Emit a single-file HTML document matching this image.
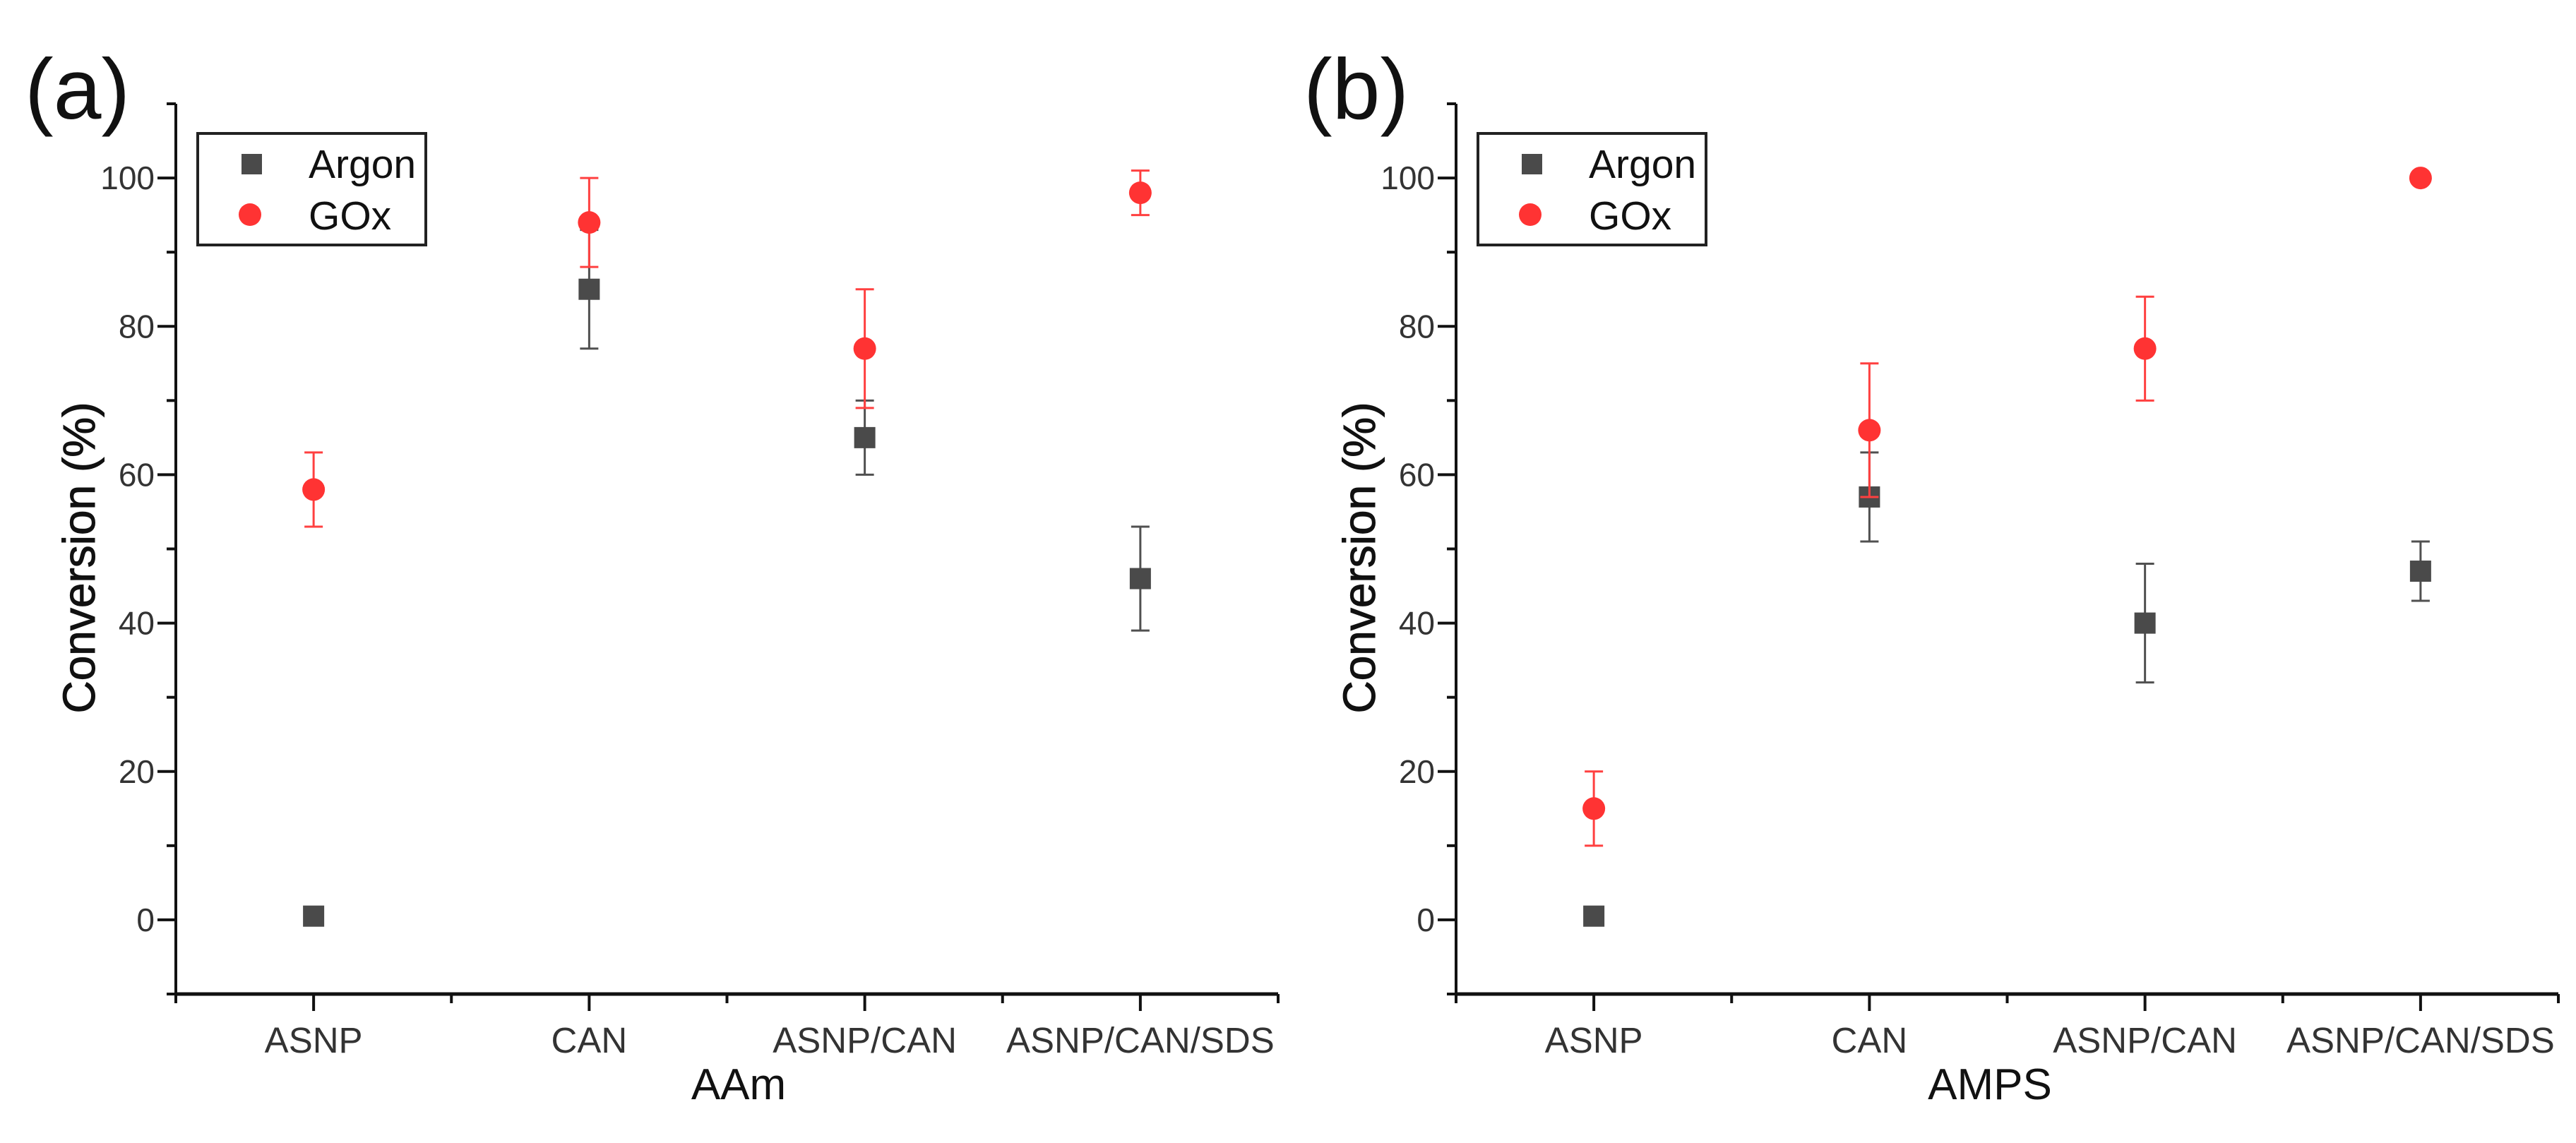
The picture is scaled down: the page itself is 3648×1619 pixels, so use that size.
<!DOCTYPE html>
<html><head><meta charset="utf-8"><style>
html,body{margin:0;padding:0;background:#fff;}
svg{display:block;font-family:"Liberation Sans",Arial,sans-serif;}
</style></head><body>
<svg id="fig" width="3648" height="1619" viewBox="0 0 3648 1619" xmlns="http://www.w3.org/2000/svg"></svg>
<script>
const categories = ["ASNP","CAN","ASNP/CAN","ASNP/CAN/SDS"];
const argonA = [0.5, 85, 65, 46];
const argonErrA = [0, 8, 5, 7];
const goxA = [58, 94, 77, 98];
const goxErrA = [5, 6, 8, 3];
const argonB = [0.5, 57, 40, 47];
const argonErrB = [0, 6, 8, 4];
const goxB = [15, 66, 77, 100];
const goxErrB = [5, 9, 7, 0];
const yTicks = [0, 20, 40, 60, 80, 100];
const yMinor = [-10, 10, 30, 50, 70, 90, 110];

const NS = "http://www.w3.org/2000/svg";
const svg = document.getElementById("fig");
function mk(tag, attrs, parent, text){
  const e = document.createElementNS(NS, tag);
  for (const k in attrs) e.setAttribute(k, attrs[k]);
  if (text !== undefined) e.textContent = text;
  (parent||svg).appendChild(e);
  return e;
}

function panel(cfg){
  const g = mk("g", {});
  
  
  const x0 = cfg.x0, x1 = x0 + 1561, yTop = 147, yBot = 1408;
  const ymin = -10, ymax = 110;
  const ys = v => yBot - (v - ymin) / (ymax - ymin) * (yBot - yTop);
  const xs = i => x0 + (i + 0.5) / 4 * (x1 - x0);
  const ax = "#111";
  // axes
  const yAxis = mk("line", {x1:x0, y1:yTop, x2:x0, y2:yBot, stroke:ax, "stroke-width":4}, g);
  
  
  const xAxis = mk("line", {x1:x0-2, y1:yBot, x2:x1, y2:yBot, stroke:ax, "stroke-width":5}, g);
  
  
  yTicks.forEach(v => {
    mk("line", {x1:x0-26, y1:ys(v), x2:x0, y2:ys(v), stroke:ax, "stroke-width":4}, g);
    const t = mk("text", {x:x0-16-(x0===249?0:0)-14, y:ys(v)+16, "text-anchor":"end", "font-size":46, fill:"#333"}, g, String(v));
    
    
  });
  yMinor.forEach(v => {
    mk("line", {x1:x0-13, y1:ys(v), x2:x0, y2:ys(v), stroke:ax, "stroke-width":4}, g);
  });
  // x ticks
  for (let i = 0; i <= 4; i++) {
    const xm = x0 + i / 4 * (x1 - x0);
    mk("line", {x1:xm, y1:yBot, x2:xm, y2:yBot+13, stroke:ax, "stroke-width":4}, g);
  }
  categories.forEach((c, i) => {
    mk("line", {x1:xs(i), y1:yBot, x2:xs(i), y2:yBot+24, stroke:ax, "stroke-width":4}, g);
    const t = mk("text", {x:xs(i), y:1491, "text-anchor":"middle", "font-size":51, fill:"#333"}, g, c);
    
    
  });
  // titles
  const yt = mk("text", {x:0, y:0, transform:`translate(${x0-115},790) rotate(-90)`, "text-anchor":"middle", "font-size":64, fill:"#111", stroke:"#111", "stroke-width":1}, g, "Conversion (%)");
  
  
  const xt = mk("text", {x:cfg.xTitleX, y:1557, "text-anchor":"middle", "font-size":62, fill:"#111"}, g, cfg.xTitle);
  
  
  const pl = mk("text", {x:cfg.labelX, y:168, "font-size":122, fill:"#111"}, g, cfg.label);
  
  
  // series
  function errbar(i, v, e, col){
    if (!e) return;
    const x = xs(i);
    const eg = mk("g", {stroke:col, "stroke-width":3}, g);
    
    
    mk("line", {x1:x, y1:ys(v+e), x2:x, y2:ys(v-e)}, eg);
    mk("line", {x1:x-13, y1:ys(v+e), x2:x+13, y2:ys(v+e)}, eg);
    mk("line", {x1:x-13, y1:ys(v-e), x2:x+13, y2:ys(v-e)}, eg);
  }
  cfg.argon.forEach((v, i) => {
    errbar(i, v, cfg.argonErr[i], "#505050");
    const r = mk("rect", {x:xs(i)-15, y:ys(v)-15, width:30, height:30, fill:"#4a4a4a"}, g);
    
    
  });
  cfg.gox.forEach((v, i) => {
    errbar(i, v, cfg.goxErr[i], "#ff4040");
    const c = mk("circle", {cx:xs(i), cy:ys(v), r:16, fill:"#ff3333"}, g);
    
    
  });
  // legend
  const lx = x0 + 31;
  const lg = mk("g", {}, g);
  
  
  mk("rect", {x:lx, y:189, width:323, height:158, fill:"#fff", stroke:"#222", "stroke-width":4}, lg);
  const e1 = mk("g", {}, lg);
  
  
  mk("rect", {x:lx+62, y:218, width:29, height:29, fill:"#4a4a4a"}, e1);
  mk("text", {x:lx+157, y:252, "font-size":57, fill:"#111"}, e1, "Argon");
  const e2 = mk("g", {}, lg);
  
  
  mk("circle", {cx:lx+74, cy:304, r:16, fill:"#ff3333"}, e2);
  mk("text", {x:lx+157, y:325, "font-size":57, fill:"#111"}, e2, "GOx");
}

panel({name:"panel-a", x0:249, argon:argonA, argonErr:argonErrA, gox:goxA, goxErr:goxErrA, xTitle:"AAm", xTitleX:1046, label:"(a)", labelX:35});
panel({name:"panel-b", x0:2062, argon:argonB, argonErr:argonErrB, gox:goxB, goxErr:goxErrB, xTitle:"AMPS", xTitleX:2818, label:"(b)", labelX:1846});
</script>
</body></html>
